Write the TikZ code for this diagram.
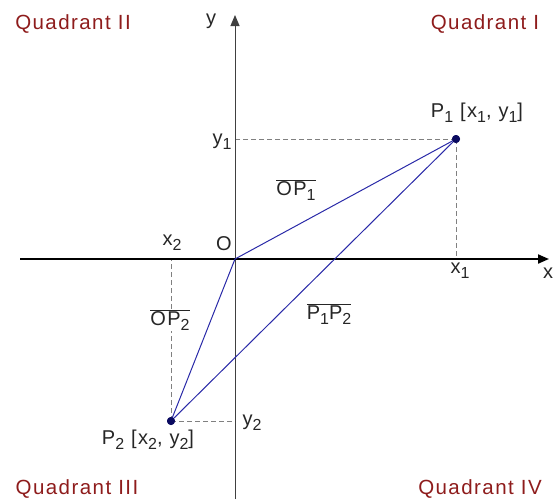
\documentclass[tikz,border=0pt]{standalone}
\usepackage{fontspec}
\setmainfont{Liberation Sans}[LetterSpace=7]
\usetikzlibrary{arrows.meta}
\definecolor{quadred}{HTML}{8E1C1C}
\definecolor{segblue}{HTML}{2A2AA8}
\definecolor{dotblue}{HTML}{0A0A60}
\newcommand\lo[1]{\raisebox{-5pt}{\fontsize{16pt}{16pt}\selectfont #1}}
\tikzset{
  lbl/.style={inner sep=1pt, font=\fontsize{20pt}{22pt}\selectfont, text=black!85},
  quad/.style={inner sep=0pt, font=\fontsize{20.5pt}{22pt}\selectfont, text=quadred},
  axisx/.style={line width=2pt, black, -{Triangle[length=11pt,width=9pt]}},
  axisy/.style={line width=1pt, black!75, -{Triangle[length=11pt,width=9pt]}},
  guide/.style={gray, line width=0.9pt, dash pattern=on 5pt off 3pt},
  seg/.style={segblue, line width=1pt},
  pt/.style={circle, fill=dotblue, inner sep=0pt, minimum size=8pt}
}
\begin{document}
\begin{tikzpicture}[x=1pt,y=-1pt]
\useasboundingbox (0,0) rectangle (555,499);
% points
\coordinate (O) at (235,259);
\node[pt] (P1) at (456,139) {};
\node[pt] (P2) at (171,421) {};
\coordinate (X1) at (456,259);
\coordinate (Y1) at (235,139);
\coordinate (X2) at (171,259);
\coordinate (Y2) at (235,421);
\coordinate (xl) at (20,259);
\coordinate (xr) at (549,259);
\coordinate (yb) at (235,499);
\coordinate (yt) at (235,15);
% guides
\draw[guide] (P1.center) -- (Y1);
\draw[guide] (P1.center) -- (X1);
\draw[guide] (P2.center) -- (X2);
\draw[guide] (P2.center) -- (Y2);
% axes
\draw[axisy] (yb) -- (yt);
\draw[axisx] (xl) -- (xr);
% segments
\draw[seg] (O) -- (P1.center);
\draw[seg] (O) -- (P2.center);
\draw[seg] (P2.center) -- (P1.center);
\node[pt] at (P1) {};
\node[pt] at (P2) {};
% labels
\node[lbl] (ly) at (211,21) {y};
\node[lbl] (lx) at (548,273) {x};
\node[lbl] (lO) at (224,244) {O};
\node[lbl] (lx1) at (460,271) {x\lo{1}};
\node[lbl] (ly1) at (222,142) {y\lo{1}};
\node[lbl] (lx2) at (172,243) {x\lo{2}};
\node[lbl] (ly2) at (252,423) {y\lo{2}};
\node[lbl] (lP1) at (477,113) {P\lo{1} [x\lo{1}, y\lo{1}]};
\node[lbl] (lP2) at (148,440) {P\lo{2} [x\lo{2}, y\lo{2}]};
\node[lbl] (lOP1) at (296,190) {$\overline{\hbox{OP\lo{1}}}$};
\node[lbl, fill=white] (lOP2) at (170,320) {$\overline{\hbox{OP\lo{2}}}$};
\node[lbl] (lP1P2) at (329,314) {$\overline{\hbox{P\lo{1}P\lo{2}}}$};
\node[quad] (q2) at (73,24) {Quadrant II};
\node[quad] (q1) at (485,24) {Quadrant I};
\node[quad] (q3) at (77,489) {Quadrant III};
\node[quad] (q4) at (480,489) {Quadrant IV};
\end{tikzpicture}
\end{document}
